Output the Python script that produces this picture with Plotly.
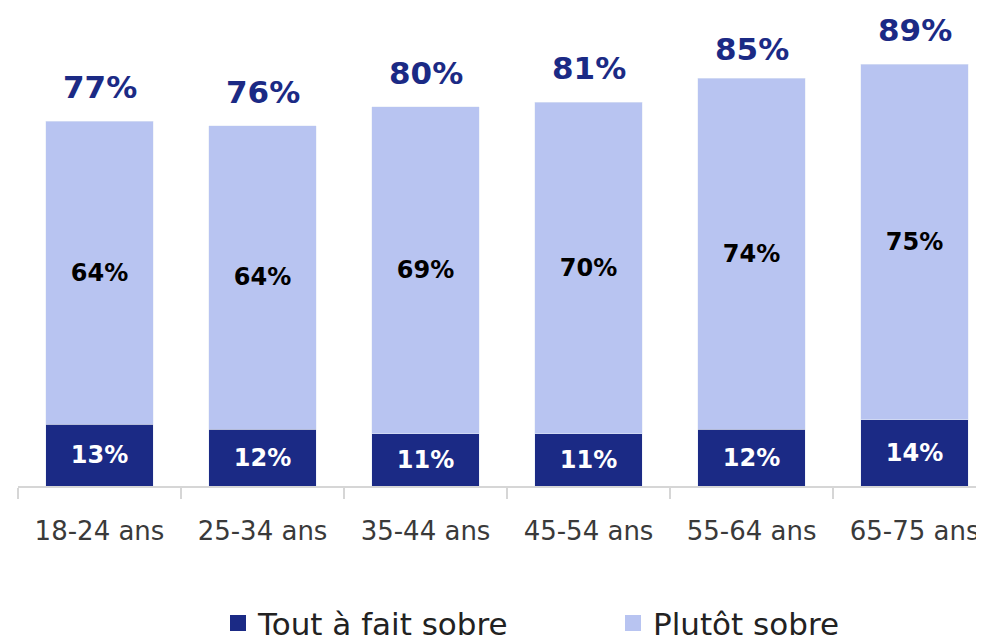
import plotly.graph_objects as go

AGES = ["18-24 ans", "25-34 ans", "35-44 ans", "45-54 ans", "55-64 ans", "65-75 ans"]
TOUT_A_FAIT = [13, 12, 11, 11, 12, 14]
PLUTOT = [64, 64, 69, 70, 74, 75]
TOTAL = [77, 76, 80, 81, 85, 89]

DARK = "#1b2a85"
LIGHT = "#b8c4f1"
VALUE_FONT = "DejaVu Sans, sans-serif"
TEXT_FONT = "DejaVu Sans, sans-serif"

fig = go.Figure()
fig.add_trace(go.Bar(
    x=AGES, y=TOUT_A_FAIT, name="Tout à fait sobre", marker_color=DARK,
    text=[f"{v}%" for v in TOUT_A_FAIT], textposition="inside", textangle=0,
    insidetextanchor="middle", constraintext="none",
    textfont={"family": VALUE_FONT, "size": 24, "color": "white", "weight": "bold"},
    width=0.66, showlegend=False,
))
fig.add_trace(go.Bar(
    x=AGES, y=PLUTOT, name="Plutôt sobre", marker_color=LIGHT,
    text=[f"{v}%" for v in PLUTOT], textposition="inside", textangle=0,
    insidetextanchor="middle", constraintext="none",
    textfont={"family": VALUE_FONT, "size": 24, "color": "black", "weight": "bold"},
    width=0.66, showlegend=False,
))

# legend entries with big square swatches
for name, col in [("Tout à fait sobre", DARK), ("Plutôt sobre", LIGHT)]:
    fig.add_trace(go.Scatter(
        x=[AGES[0]], y=[None], mode="markers", name=name,
        marker={"symbol": "square", "size": 20, "color": col},
    ))

for age, tot in zip(AGES, TOTAL):
    fig.add_annotation(
        x=age, y=tot, text=f"{tot}%", showarrow=False, yanchor="bottom", yshift=14,
        font={"family": VALUE_FONT, "size": 31, "color": DARK, "weight": "bold"},
    )

# page body has an 8px margin, so keep the figure inside the 984x641 window
fig.update_layout(
    barmode="stack",
    width=976, height=633,
    paper_bgcolor="white", plot_bgcolor="white",
    margin={"l": 10, "r": 0, "t": 4, "b": 155},
    legend={
        "orientation": "h", "traceorder": "normal",
        "xref": "container", "x": 210 / 976, "xanchor": "left",
        "yref": "container", "y": 0.028, "yanchor": "middle",
        "font": {"family": TEXT_FONT, "size": 31, "color": "#222222"},
        "entrywidth": 350, "entrywidthmode": "pixels",
    },
)
fig.update_xaxes(
    range=[-0.5, 5.426], showline=True, linecolor="#d6d6d6", linewidth=2,
    ticks="outside", tickson="boundaries", ticklen=11, tickcolor="#d6d6d6", tickwidth=2,
    tickfont={"family": TEXT_FONT, "size": 26, "color": "#3a3a3a"},
    ticklabelstandoff=21, showgrid=False,
)
fig.update_yaxes(range=[0, 100], visible=False, showgrid=False)

fig.write_html("out.html")
